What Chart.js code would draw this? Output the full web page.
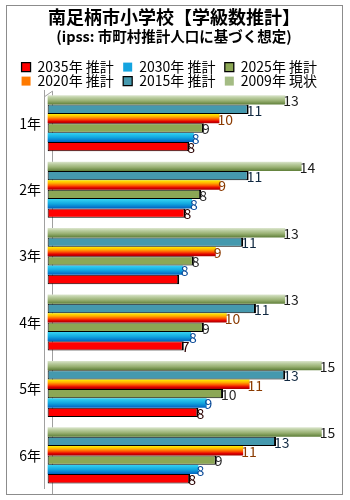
<!DOCTYPE html>
<html>
<head>
<meta charset="utf-8">
<script src="https://cdn.jsdelivr.net/npm/chart.js@4"></script>
<style>
  html, body { margin: 0; padding: 0; background: #fff; }
  canvas { display: block; }
</style>
</head>
<body>
<canvas id="classChart" width="350" height="500"></canvas>
<script>
// grades (categories)
const grades = ['1年', '2年', '3年', '4年', '5年', '6年'];

// series names, top bar to bottom bar
const seriesNames = ['2009年 現状', '2015年 推計', '2020年 推計', '2025年 推計', '2030年 推計', '2035年 推計'];

// bar lengths (class counts)
const y2009 = [13.0, 13.9, 13.0, 13.0, 15.0, 15.0];
const y2015 = [11.0, 11.0, 10.7, 11.4, 13.0, 12.5];
const y2020 = [9.4, 9.45, 9.2, 9.8, 11.05, 10.7];
const y2025 = [8.55, 8.4, 8.0, 8.55, 9.6, 9.25];
const y2030 = [8.0, 7.9, 7.4, 7.85, 8.7, 8.25];
const y2035 = [7.75, 7.55, 7.2, 7.45, 8.25, 7.8];

// the rounded numbers printed at the bar ends
const lbl2009 = [13, 14, 13, 13, 15, 15];
const lbl2015 = [11, 11, 11, 11, 13, 13];
const lbl2020 = [10, 9, 9, 10, 11, 11];
const lbl2025 = [9, 8, 8, 9, 10, 9];
const lbl2030 = [8, 8, 8, 8, 9, 8];
const lbl2035 = [8, 8, null, 7, 8, 8];

const FONT = "'Noto Sans CJK JP', 'Noto Sans', sans-serif";
const CAT_PCT = 0.845;

// vertical gradient fitted to one bar's band
function bandGradient(stops, solid) {
    return (c) => {
        const chart = c.chart;
        const ys = chart.scales.y;
        if (c.type !== 'data' || !ys || !chart.chartArea) return solid;
        const n = chart.data.datasets.length;
        const catH = ys.height / chart.data.labels.length;
        const groupH = catH * CAT_PCT;
        const bw = groupH / n;
        const top = ys.getPixelForValue(c.dataIndex) - groupH / 2 + c.datasetIndex * bw;
        const g = chart.ctx.createLinearGradient(0, top, 0, top + bw);
        stops.forEach(([o, col]) => g.addColorStop(o, col));
        return g;
    };
}

const green = bandGradient([[0, '#DCE6CE'], [0.25, '#BCCEA2'], [0.6, '#98B072'], [1, '#5E7E38']], '#A8BE88');
const orange = bandGradient([[0, '#FFF000'], [0.3, '#FFB000'], [0.55, '#FF5A00'], [0.8, '#E00000'], [1, '#A00000']], '#FF8C00');
const cyan = bandGradient([[0, '#36D4F2'], [0.5, '#12A8E0'], [1, '#0062C0']], '#1BA8E0');

// legend swatch colours, same order as seriesNames
const legendFill = ['#A4BC84', '#4599AE', '#FF7A00', '#8CA755', '#14A4E0', '#FF0000'];

const edge = { top: 1, right: 2, bottom: 1, left: 1 };

const barEndLabels = {
    id: 'barEndLabels',
    afterDatasetsDraw(chart) {
        const ctx = chart.ctx;
        const all = [lbl2009, lbl2015, lbl2020, lbl2025, lbl2030, lbl2035];
        const colors = ['#1a1a1a', '#102840', '#8a3a00', '#2a2a2a', '#0a4a98', '#2a0000'];
        ctx.save();
        ctx.font = '14px ' + FONT;
        ctx.textAlign = 'left';
        ctx.textBaseline = 'middle';
        chart.data.datasets.forEach((ds, i) => {
            chart.getDatasetMeta(i).data.forEach((el, j) => {
                const t = all[i][j];
                if (t == null) return;
                ctx.fillStyle = colors[i];
                ctx.fillText(String(t), el.x - 2, el.y + 1);
            });
        });
        ctx.restore();
    }
};

const frame = {
    id: 'frame',
    beforeDatasetsDraw(chart) {
        const ctx = chart.ctx;
        const a = chart.chartArea;
        ctx.save();
        ctx.strokeStyle = '#A0A0A0';
        ctx.lineWidth = 1;
        ctx.beginPath();
        ctx.moveTo(a.left, a.top + 7);
        ctx.lineTo(52.5, a.top + 1);
        ctx.lineTo(52.5, 494);
        ctx.stroke();
        ctx.restore();
    },
    afterDraw(chart) {
        const ctx = chart.ctx;
        ctx.save();
        ctx.fillStyle = '#fff';
        ctx.fillRect(0, 495, 350, 5);
        ctx.strokeStyle = '#8C8C8C';
        ctx.lineWidth = 1;
        ctx.strokeRect(6.5, 5.5, 336, 489);
        ctx.restore();
    }
};

const ctx = document.getElementById('classChart').getContext('2d');
new Chart(ctx, {
    type: 'bar',
    data: {
        labels: grades,
        datasets: [
            { label: seriesNames[0], data: y2009, backgroundColor: green, borderWidth: 0 },
            { label: seriesNames[1], data: y2015, backgroundColor: '#4599AE', borderColor: '#000', borderWidth: edge },
            { label: seriesNames[2], data: y2020, backgroundColor: orange, borderWidth: 0 },
            { label: seriesNames[3], data: y2025, backgroundColor: '#8CA755', borderColor: '#000', borderWidth: edge },
            { label: seriesNames[4], data: y2030, backgroundColor: cyan, borderWidth: 0 },
            { label: seriesNames[5], data: y2035, backgroundColor: '#FF0000', borderColor: '#000', borderWidth: edge }
        ]
    },
    options: {
        indexAxis: 'y',
        responsive: false,
        animation: false,
        devicePixelRatio: 1,
        layout: { padding: { top: 0, left: 8, right: 10, bottom: 2 } },
        datasets: {
            bar: { categoryPercentage: CAT_PCT, barPercentage: 1, borderSkipped: false }
        },
        scales: {
            x: { display: false, min: -0.2, max: 16 },
            y: {
                afterFit: (scale) => { scale.width = 36; },
                grid: { display: false, drawTicks: false },
                border: { display: true, color: '#A0A0A0' },
                ticks: { color: '#000', padding: 3, font: { family: FONT, size: 14 } }
            }
        },
        plugins: {
            title: {
                display: true,
                text: '南足柄市小学校【学級数推計】',
                color: '#000',
                font: { family: FONT, size: 18, weight: 'bold', lineHeight: 1.15 },
                padding: { top: 7, bottom: 0 }
            },
            subtitle: {
                display: true,
                text: '(ipss: 市町村推計人口に基づく想定)',
                color: '#000',
                font: { family: FONT, size: 14.5, weight: 'bold', lineHeight: 1.2 },
                padding: { top: 0, bottom: 15 }
            },
            legend: {
                reverse: true,
                maxHeight: 30,
                labels: {
                    color: '#000',
                    boxWidth: 9,
                    boxHeight: 9,
                    padding: 0,
                    font: { family: FONT, size: 14 },
                    generateLabels(chart) {
                        const items = Chart.defaults.plugins.legend.labels.generateLabels(chart);
                        items.forEach(it => {
                            it.fillStyle = legendFill[it.datasetIndex];
                            it.text = it.text + '   ';
                        });
                        return items;
                    }
                }
            },
            tooltip: { enabled: false }
        }
    },
    plugins: [barEndLabels, frame]
});
</script>
</body>
</html>
